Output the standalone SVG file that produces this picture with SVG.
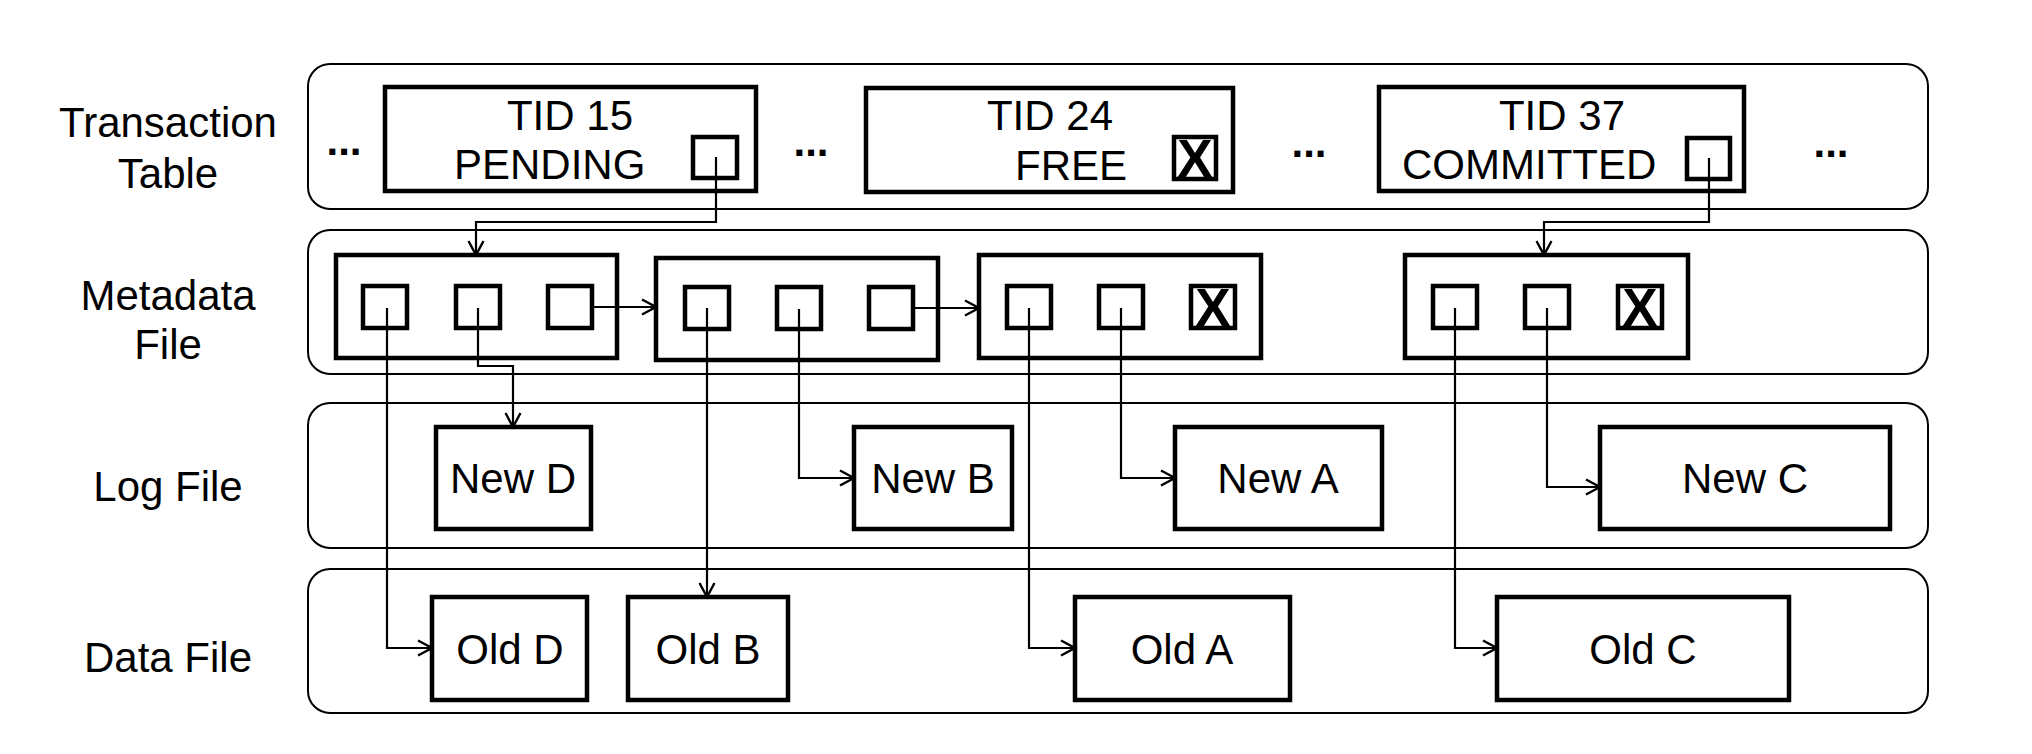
<svg xmlns="http://www.w3.org/2000/svg" width="2032" height="754" viewBox="0 0 2032 754">
<style>
.band{fill:none;stroke:#000;stroke-width:2}
.box{fill:#fff;stroke:#000;stroke-width:4.5}
.sq{fill:#fff;stroke:#000;stroke-width:4.5}
.t{font-family:"Liberation Sans",Arial,sans-serif;font-size:42px;fill:#000}
.m{text-anchor:middle}
.b{font-weight:bold}
.x{font-family:"Liberation Sans",Arial,sans-serif;font-size:53px;font-weight:bold;text-anchor:middle;fill:#000}
.c{fill:none;stroke:#000;stroke-width:2.2;marker-end:url(#ah)}
</style>
<defs>
<marker id="ah" markerUnits="userSpaceOnUse" viewBox="0 0 18 18" refX="15.5" refY="9" markerWidth="18" markerHeight="18" orient="auto">
<path d="M1.5,1.5 L15.5,9 L1.5,16.5" fill="none" stroke="#000" stroke-width="2.4"/>
</marker>
</defs>
<rect width="2032" height="754" fill="#fff"/>

<g id="labels">
<text class="t m" x="168" y="137">Transaction</text>
<text class="t m" x="168" y="188">Table</text>
<text class="t m" x="168" y="310">Metadata</text>
<text class="t m" x="168" y="359">File</text>
<text class="t m" x="168" y="501">Log File</text>
<text class="t m" x="168" y="672">Data File</text>
</g>

<g id="bands">
<rect class="band" x="308" y="64" width="1620" height="145" rx="22" ry="22"/>
<rect class="band" x="308" y="230" width="1620" height="144" rx="22" ry="22"/>
<rect class="band" x="308" y="403" width="1620" height="145" rx="22" ry="22"/>
<rect class="band" x="308" y="569" width="1620" height="144" rx="22" ry="22"/>
</g>

<g id="dots">
<text class="t m b" x="344" y="155">...</text>
<text class="t m b" x="811" y="156">...</text>
<text class="t m b" x="1309" y="157">...</text>
<text class="t m b" x="1831" y="157">...</text>
</g>

<g id="tid15">
<rect class="box" x="385" y="87" width="371" height="104"/>
<text class="t m" x="570" y="130">TID 15</text>
<text class="t" x="454" y="179">PENDING</text>
<rect class="sq" x="693" y="137" width="44" height="41"/>
</g>
<g id="tid24">
<rect class="box" x="866" y="88" width="367" height="104"/>
<text class="t m" x="1050" y="130">TID 24</text>
<text class="t" x="1015" y="180">FREE</text>
<rect class="sq" x="1174" y="137" width="42" height="42"/>
<text class="x" x="1195" y="177">X</text>
</g>
<g id="tid37">
<rect class="box" x="1379" y="87" width="365" height="104"/>
<text class="t m" x="1562" y="130">TID 37</text>
<text class="t" x="1402" y="179">COMMITTED</text>
<rect class="sq" x="1687" y="138" width="43" height="41"/>
</g>

<g id="meta1">
<rect class="box" x="336" y="255" width="281" height="103"/>
<rect class="sq" x="363" y="286" width="44" height="42"/>
<rect class="sq" x="456" y="286" width="44" height="42"/>
<rect class="sq" x="548" y="286" width="44" height="42"/>
</g>
<g id="meta2">
<rect class="box" x="656" y="258" width="282" height="102"/>
<rect class="sq" x="685" y="287" width="44" height="42"/>
<rect class="sq" x="777" y="287" width="44" height="42"/>
<rect class="sq" x="869" y="287" width="44" height="42"/>
</g>
<g id="meta3">
<rect class="box" x="979" y="255" width="282" height="103"/>
<rect class="sq" x="1007" y="286" width="44" height="42"/>
<rect class="sq" x="1099" y="286" width="44" height="42"/>
<rect class="sq" x="1191" y="286" width="44" height="42"/>
<text class="x" x="1213" y="326">X</text>
</g>
<g id="meta4">
<rect class="box" x="1405" y="255" width="283" height="103"/>
<rect class="sq" x="1433" y="286" width="44" height="42"/>
<rect class="sq" x="1525" y="286" width="44" height="42"/>
<rect class="sq" x="1618" y="286" width="44" height="42"/>
<text class="x" x="1640" y="326">X</text>
</g>

<g id="newD"><rect class="box" x="436" y="427" width="155" height="102"/><text class="t m" x="513" y="493">New D</text></g>
<g id="newB"><rect class="box" x="854" y="427" width="158" height="102"/><text class="t m" x="933" y="493">New B</text></g>
<g id="newA"><rect class="box" x="1175" y="427" width="207" height="102"/><text class="t m" x="1278" y="493">New A</text></g>
<g id="newC"><rect class="box" x="1600" y="427" width="290" height="102"/><text class="t m" x="1745" y="493">New C</text></g>

<g id="oldD"><rect class="box" x="432" y="597" width="155" height="103"/><text class="t m" x="510" y="664">Old D</text></g>
<g id="oldB"><rect class="box" x="628" y="597" width="160" height="103"/><text class="t m" x="708" y="664">Old B</text></g>
<g id="oldA"><rect class="box" x="1075" y="597" width="215" height="103"/><text class="t m" x="1182" y="664">Old A</text></g>
<g id="oldC"><rect class="box" x="1497" y="597" width="292" height="103"/><text class="t m" x="1643" y="664">Old C</text></g>

<g id="connectors">
<path class="c" d="M716,157 V222 H476 V255"/>
<path class="c" d="M1709,158 V222 H1544 V255"/>
<path class="c" d="M592,307 H656"/>
<path class="c" d="M913,308 H979"/>
<path class="c" d="M387,308 V648 H432"/>
<path class="c" d="M478,308 V366 H513 V427"/>
<path class="c" d="M707,308 V597"/>
<path class="c" d="M799,309 V478 H854"/>
<path class="c" d="M1029,308 V648 H1075"/>
<path class="c" d="M1121,308 V478 H1175"/>
<path class="c" d="M1455,308 V648 H1497"/>
<path class="c" d="M1547,308 V487 H1600"/>
</g>
</svg>
